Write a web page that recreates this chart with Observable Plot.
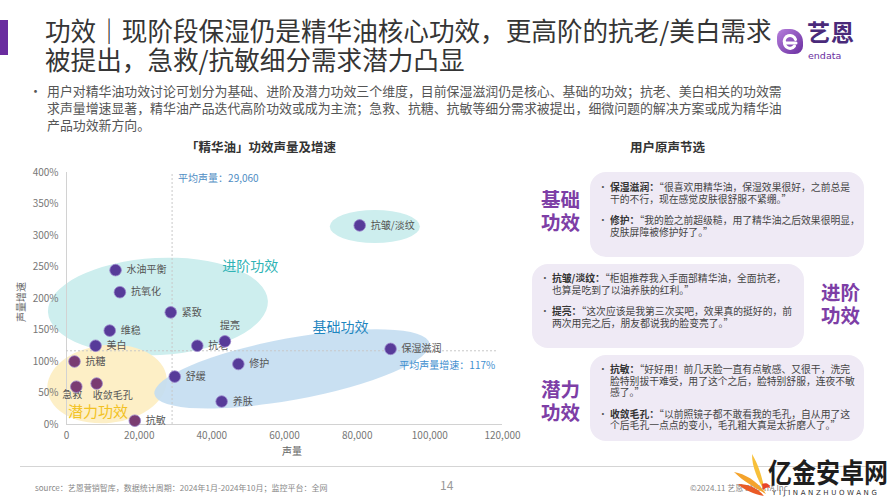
<!DOCTYPE html>
<html>
<head>
<meta charset="utf-8">
<script src="https://cdn.jsdelivr.net/npm/d3@7"></script>
<script src="https://cdn.jsdelivr.net/npm/@observablehq/plot@0.6"></script>
<style>
  html, body { margin: 0; padding: 0; background: #fff; }
  body { font-family: "Noto Sans CJK SC", "Noto Sans", sans-serif; }
  #page { position: relative; width: 890px; height: 500px; overflow: hidden; background: #fff; }
  .abs { position: absolute; white-space: nowrap; }
  .box { position: absolute; background: #efeaf5; border-radius: 16px; }
  .quote { position: absolute; font-size: 9.8px; line-height: 11.5px; color: #444; white-space: nowrap; }
  .quote .b { font-weight: bold; color: #333; }
  .quote .item { position: relative; padding-left: 12px; margin-bottom: 10px; }
  .quote .item::before { content: "•"; position: absolute; left: 0; top: 0; color: #555; }
  .tag { position: absolute; font-size: 19.5px; line-height: 23px; font-weight: bold; color: #7d3ea6; }
</style>
</head>
<body>
<div id="page">
  <div class="abs" style="left:0;top:20px;width:8px;height:35px;background:#6a2c9f;"></div>
  <div class="abs" id="title" style="left:45px;top:15px;font-size:25.6px;line-height:29px;color:#353535;">功效｜现阶段保湿仍是精华油核心功效，更高阶的抗老/美白需求<br>被提出，急救/抗敏细分需求潜力凸显</div>

  <div class="abs" style="left:777px;top:29px;width:26px;height:25px;border-radius:8px 13px 8px 13px;background:linear-gradient(135deg,#b67fdc,#6a2ea0);"></div>
  <svg class="abs" style="left:777px;top:29px;" width="26" height="25" viewBox="0 0 26 25">
    <path d="M19 14 H7.5 A5.5 5.5 0 1 1 18.5 10.5" fill="none" stroke="#fff" stroke-width="3" stroke-linecap="round"/>
    <path d="M7.6 13 A5.5 5.5 0 0 0 17.5 17" fill="none" stroke="#fff" stroke-width="3" stroke-linecap="round"/>
  </svg>
  <div class="abs" style="left:807px;top:17px;font-size:23px;line-height:28px;font-weight:bold;color:#4a2a7a;letter-spacing:1px;">艺恩</div>
  <div class="abs" style="left:808px;top:50px;font-size:9.5px;line-height:11px;color:#6a2c9f;font-family:'DejaVu Sans',sans-serif;">endata</div>

  <div class="abs" style="left:29px;top:82px;font-size:13px;line-height:17px;color:#555;">•</div>
  <div class="abs" style="left:47px;top:82px;font-size:12.9px;line-height:17px;color:#555;">用户对精华油功效讨论可划分为基础、进阶及潜力功效三个维度，目前保湿滋润仍是核心、基础的功效；抗老、美白相关的功效需<br>求声量增速显著，精华油产品迭代高阶功效或成为主流；急救、抗糖、抗敏等细分需求被提出，细微问题的解决方案或成为精华油<br>产品功效新方向。</div>

  <div class="abs" style="left:186px;top:138px;font-size:12.5px;line-height:18px;font-weight:bold;color:#333;">「精华油」功效声量及增速</div>
  <div class="abs" style="left:630px;top:138px;font-size:12.5px;line-height:18px;font-weight:bold;color:#333;">用户原声节选</div>

  <div id="chart" class="abs" style="left:0;top:160px;width:540px;height:300px;"></div>
  <div class="abs" style="left:15px;top:322px;font-size:10px;line-height:12px;color:#666;transform:rotate(-90deg);transform-origin:left top;" id="ylab"></div>
  <div class="abs" style="left:282px;top:444px;font-size:10px;line-height:14px;color:#666;" id="xlab"></div>

  <div class="box" style="left:590px;top:172px;width:274px;height:85px;"></div>
  <div class="tag" style="left:541px;top:187px;">基础<br>功效</div>
  <div class="quote" style="left:598px;top:182px;">
    <div class="item"><span class="b">保湿滋润：</span>“很喜欢用精华油，保湿效果很好，之前总是<br>干的不行，现在感觉皮肤很舒服不紧绷。”</div>
    <div class="item"><span class="b">修护：</span>“我的脸之前超级糙，用了精华油之后效果很明显，<br>皮肤屏障被修护好了。”</div>
  </div>

  <div class="box" style="left:532px;top:264px;width:272px;height:84px;"></div>
  <div class="tag" style="left:821px;top:280px;">进阶<br>功效</div>
  <div class="quote" style="left:540px;top:273px;">
    <div class="item"><span class="b">抗皱/淡纹：</span>“柜姐推荐我入手面部精华油，全面抗老，<br>也算是吃到了以油养肤的红利。”</div>
    <div class="item"><span class="b">提亮：</span>“这次应该是我第三次买吧，效果真的挺好的，前<br>两次用完之后，朋友都说我的脸变亮了。”</div>
  </div>

  <div class="box" style="left:590px;top:355px;width:274px;height:86px;"></div>
  <div class="tag" style="left:541px;top:377px;">潜力<br>功效</div>
  <div class="quote" style="left:598px;top:364px;">
    <div class="item"><span class="b">抗敏：</span>“好好用！前几天脸一直有点敏感、又很干，洗完<br>脸特别拔干难受，用了这个之后，脸特别舒服，连夜不敏<br>感了。”</div>
    <div class="item"><span class="b">收敛毛孔：</span>“以前照镜子都不敢看我的毛孔，自从用了这<br>个后毛孔一点点的变小，毛孔粗大真是太折磨人了。”</div>
  </div>

  <div class="abs" style="left:20px;top:466px;width:850px;height:1px;background:#d5d5d5;"></div>
  <div class="abs" style="left:35px;top:482px;font-size:8px;line-height:12px;color:#888;">source：艺恩营销智库，数据统计周期：2024年1月-2024年10月；监控平台：全网</div>
  <div class="abs" style="left:440px;top:477px;font-size:12px;line-height:16px;color:#999;">14</div>
  <div class="abs" style="left:690px;top:482px;font-size:8px;line-height:12px;color:#888;">©2024.11 艺恩 ENDATA Inc.</div>

  <svg class="abs" style="left:732px;top:452px;" width="40" height="48" viewBox="0 0 40 48">
    <path d="M2 20 C14 22 26 30 34 42 C24 36 12 30 2 20 Z" fill="#f4a32c"/>
    <path d="M6 32 C16 32 26 36 32 44 C22 42 12 38 6 32 Z" fill="#ea5a26"/>
    <path d="M20 2 C26 12 30 24 33 40 C26 28 20 16 20 2 Z" fill="#f7c03a"/>
    <path d="M30 32 C34 30 38 32 38 36 C35 35 33 36 31 38 Z" fill="#e8452a"/>
  </svg>
  <div class="abs" style="left:768px;top:456px;font-size:24px;line-height:28px;font-weight:bold;color:#1e1e1e;transform:scaleY(1.12);transform-origin:left top;">亿金安卓网</div>
  <div class="abs" style="left:772px;top:489px;font-size:7px;line-height:9px;color:#333;letter-spacing:2.6px;font-family:'DejaVu Sans',sans-serif;">YIJINANZHUOWANG</div>
</div>

<script>
// ---- data ----
const effects = ["水油平衡","抗氧化","紧致","维稳","美白","抗老","提亮","保湿滋润","修护","舒缓","养肤","抗糖","急救","收敛毛孔","抗敏","抗皱/淡纹"];
const volume  = [13500, 14700, 28700, 11900, 8000, 36000, 43600, 89200, 47300, 29800, 42700, 2200, 2700, 8300, 18800, 80700];
const growth  = [2.45, 2.10, 1.78, 1.49, 1.25, 1.25, 1.32, 1.20, 0.96, 0.76, 0.365, 1.00, 0.60, 0.65, 0.06, 3.16];
const tier    = ["进阶","进阶","进阶","进阶","进阶","进阶","进阶","基础","基础","基础","基础","潜力","潜力","潜力","潜力","进阶"];

const avgVolume = 29060;
const avgGrowth = 1.17;

const xTicks = [0, 20000, 40000, 60000, 80000, 100000, 120000];
const yTicks = [0, 0.5, 1, 1.5, 2, 2.5, 3, 3.5, 4];
const xLabel = "声量";
const yLabel = "声量增速";

// cluster names and where they sit (data units)
const zoneNames = ["进阶功效", "基础功效", "潜力功效"];
const zoneTextX = [50600, 75400, 8700];
const zoneTextY = [2.51, 1.54, 0.19];

// background zones (data units, rotation in degrees)
const zoneCx  = [25300, 85000, 11300, 62200];
const zoneCy  = [1.865, 3.135, 0.635, 0.875];
const zoneRx  = [30300, 12400, 16500, 38500];
const zoneRy  = [0.77, 0.262, 0.62, 0.49];
const zoneRot = [-3, 0, -6, -10.5];
const zoneFill = ["#cdeeee", "#cdeeee", "#fdefc6", "#c3ddf1"];
const zoneOpacity = [1, 1, 1, 0.9];

const points = effects.map((name, i) => ({name, volume: volume[i], growth: growth[i], tier: tier[i]}));

const font = '"Noto Sans CJK SC", "Noto Sans", sans-serif';
const special = {"提亮": "above", "急救": "below", "收敛毛孔": "below2"};
const normal = points.filter(d => !special[d.name]);

const chart = Plot.plot({
  width: 540,
  height: 300,
  marginLeft: 66,
  marginRight: 38,
  marginTop: 12,
  marginBottom: 36,
  style: {fontFamily: font, fontSize: "10px", color: "#777", background: "transparent", overflow: "visible"},
  x: {domain: [0, 120000], ticks: xTicks, tickFormat: d3.format(",")},
  y: {domain: [0, 4], ticks: yTicks, tickFormat: d => Math.round(d * 100) + "%"},
  color: {domain: ["基础", "进阶", "潜力"], range: ["#573b99", "#573b99", "#7a3c72"]},
  marks: [
    Plot.ruleY([0], {x1: 0, x2: 120000, stroke: "#d2d2d2"}),
    Plot.ruleX([0], {y1: 0, y2: 4, stroke: "#d2d2d2"}),
    Plot.ruleX([avgVolume], {y1: 0, y2: 4, stroke: "#c8c8c8", strokeDasharray: "2,2"}),
    Plot.ruleY([avgGrowth], {x1: 0, x2: 118500, stroke: "#c8c8c8", strokeDasharray: "2,2"}),
    Plot.axisX({ticks: xTicks, tickSize: 0, tickPadding: 7, label: null, tickFormat: d3.format(",")}),
    Plot.axisY({ticks: yTicks, tickSize: 0, tickPadding: 8, label: null, tickFormat: d => Math.round(d * 100) + "%"}),
    Plot.text([avgVolume], {x: d => d, y: 4, dx: 6, dy: 6, text: d => "平均声量：" + d3.format(",")(d), textAnchor: "start", fill: "#4f8dc4", fontSize: 10}),
    Plot.text([avgGrowth], {x: 118000, y: d => d, dy: 15, text: d => "平均声量增速：" + Math.round(d * 100) + "%", textAnchor: "end", fill: "#3f8fcf", fontSize: 10}),
    Plot.text(zoneNames, {x: (d, i) => zoneTextX[i], y: (d, i) => zoneTextY[i], text: d => d,
      fill: (d, i) => ["#2fb3b5", "#1f86bf", "#f2c224"][i], fontSize: (d, i) => [14, 14, 15][i], fontWeight: (d, i) => ["normal", "bold", "bold"][i]}),
    Plot.text(normal, {x: "volume", y: "growth", text: "name", dx: 11, textAnchor: "start", fill: "#555", fontSize: 10}),
    Plot.text(points.filter(d => special[d.name] === "above"), {x: "volume", y: "growth", text: "name", dx: 5, dy: -16, fill: "#555", fontSize: 10}),
    Plot.text(points.filter(d => special[d.name] === "below"), {x: "volume", y: "growth", text: "name", dx: -4, dy: 8, fill: "#555", fontSize: 10}),
    Plot.text(points.filter(d => special[d.name] === "below2"), {x: "volume", y: "growth", text: "name", dx: 16, dy: 12, fill: "#555", fontSize: 10}),
    Plot.dot(points, {x: "volume", y: "growth", r: 5.8, fill: "tier", stroke: "#9a84cc", strokeWidth: 1, strokeOpacity: 0.8})
  ]
});

// background zones drawn through the plot's own scales, underneath the marks
const sx = chart.scale("x"), sy = chart.scale("y");
const ns = "http://www.w3.org/2000/svg";
const g = document.createElementNS(ns, "g");
zoneCx.forEach((cx, i) => {
  const px = sx.apply(cx), py = sy.apply(zoneCy[i]);
  const rx = Math.abs(sx.apply(cx + zoneRx[i]) - px);
  const ry = Math.abs(sy.apply(zoneCy[i] + zoneRy[i]) - py);
  const e = document.createElementNS(ns, "ellipse");
  e.setAttribute("cx", px); e.setAttribute("cy", py);
  e.setAttribute("rx", rx); e.setAttribute("ry", ry);
  e.setAttribute("transform", `rotate(${zoneRot[i]} ${px} ${py})`);
  e.setAttribute("fill", zoneFill[i]);
  e.setAttribute("fill-opacity", zoneOpacity[i]);
  g.appendChild(e);
});
const firstMark = chart.querySelector("g[aria-label]");
chart.insertBefore(g, firstMark);

document.getElementById("chart").appendChild(chart);
document.getElementById("xlab").textContent = xLabel;
document.getElementById("ylab").textContent = yLabel;
</script>
</body>
</html>
